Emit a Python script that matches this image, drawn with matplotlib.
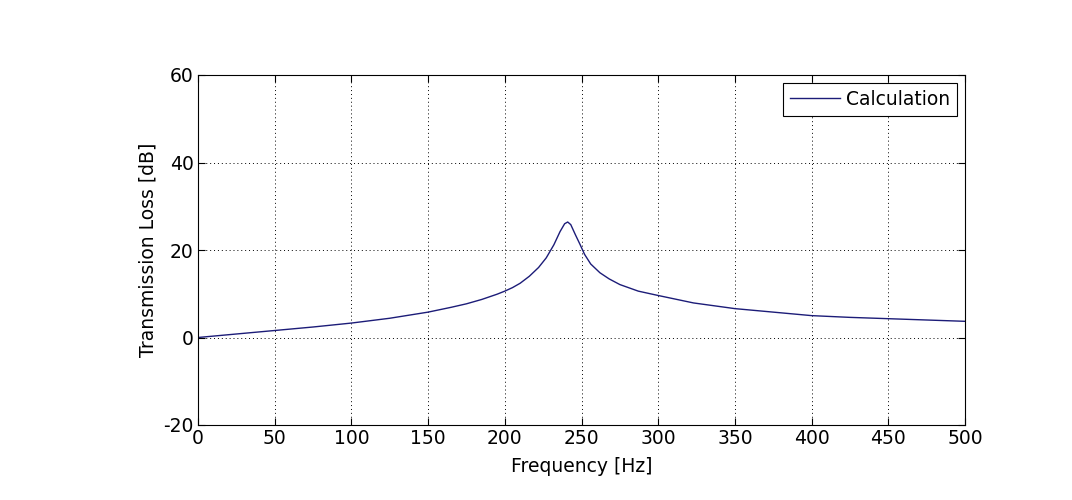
import matplotlib
matplotlib.use("Agg")
import matplotlib.pyplot as plt

# values
freq = [0, 25, 50, 75, 100, 125, 150, 165, 175, 185, 195, 200, 205, 210, 216,
        222, 227, 232, 236, 239, 241, 243, 246, 249, 252, 256, 262, 268, 275,
        287, 300, 323, 350, 375, 400, 425, 450, 475, 500]
tl = [0, 0.8, 1.6, 2.4, 3.3, 4.4, 5.8, 6.9, 7.7, 8.7, 9.9, 10.6, 11.4, 12.4,
      14.0, 16.0, 18.2, 21.2, 24.2, 26.0, 26.4, 25.8, 23.5, 21.3, 19.0, 16.8,
      14.8, 13.4, 12.1, 10.6, 9.6, 7.9, 6.6, 5.8, 5.0, 4.6, 4.3, 4.0, 3.7]

xticks = [0, 50, 100, 150, 200, 250, 300, 350, 400, 450, 500]
yticks = [-20, 0, 20, 40, 60]

plt.rcParams['font.family'] = ['DejaVu Sans']
plt.rcParams['font.size'] = 13.5
plt.rcParams['axes.unicode_minus'] = False

fig = plt.figure(figsize=(10.72, 5.0), dpi=100)
ax = fig.add_axes([0.1847, 0.15, 0.7155, 0.70])

ax.plot(freq, tl, color='#1c1c78', linewidth=1.0, label='Calculation')

ax.set_xlim(0, 500)
ax.set_ylim(-20, 60)
ax.set_xticks(xticks)
ax.set_yticks(yticks)
ax.grid(True, linestyle=(0, (1, 3)), color='black', linewidth=0.7)
ax.tick_params(direction='in', top=True, right=True, length=5, width=0.8,
               pad=3)
for s in ax.spines.values():
    s.set_linewidth(0.8)

ax.set_xlabel('Frequency [Hz]', labelpad=6)
ax.set_ylabel('Transmission Loss [dB]', labelpad=4)

leg = ax.legend(loc='upper right', fancybox=False, edgecolor='black',
                framealpha=1, handlelength=2.7, handletextpad=0.3,
                borderpad=0.35, borderaxespad=0.45)
leg.get_frame().set_linewidth(0.8)

plt.savefig('out.png', dpi=100)
